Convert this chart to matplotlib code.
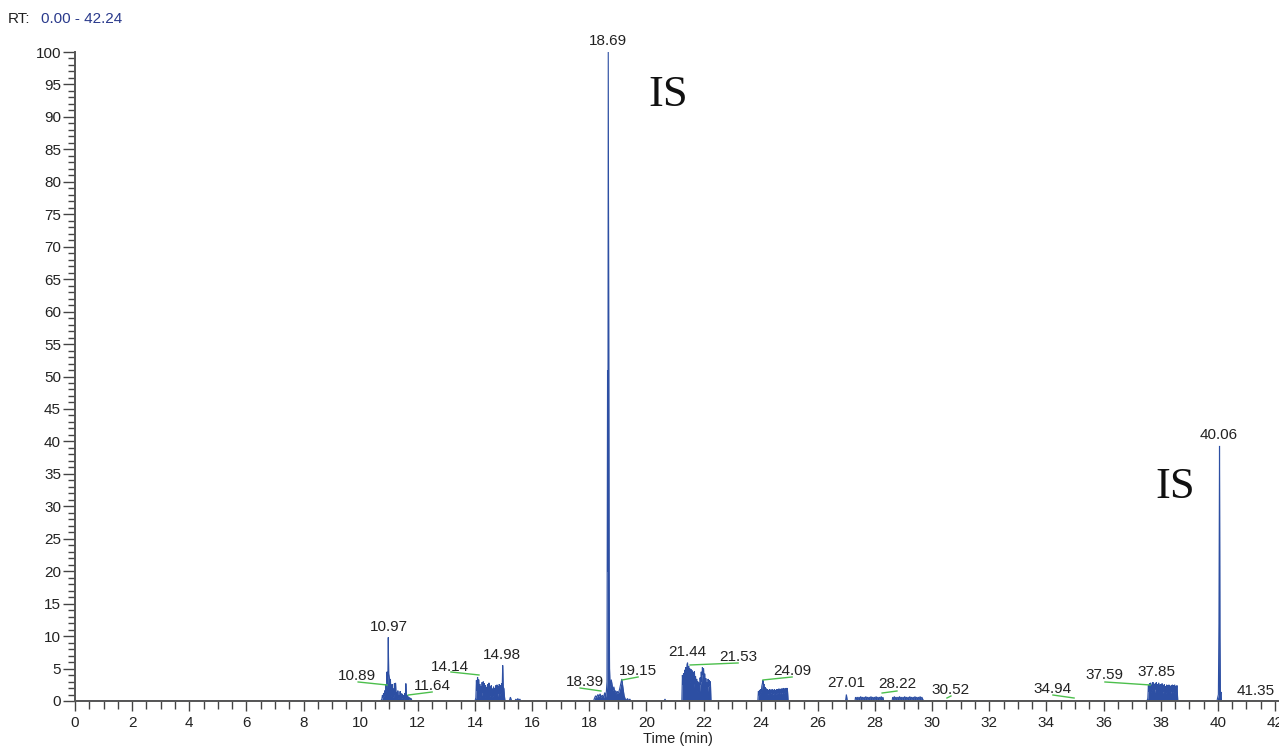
import matplotlib
matplotlib.use("Agg")
import matplotlib.pyplot as plt
from matplotlib.ticker import MultipleLocator

# ---------------- data (retention time in min, relative abundance %) ----------------
baseline_start = [(0.0, 0.0)]
cluster_11 = [(10.70,0),(10.74,0.3),(10.76,0.9),(10.78,0.5),(10.80,1.2),(10.82,0.7),(10.84,1.6),(10.86,1.0),
              (10.88,2.6),(10.90,1.5),(10.92,4.5),(10.94,2.6),(10.95,3.8),(10.965,9.8),(10.98,4.2),(11.00,3.6),
              (11.02,2.0),(11.04,3.4),(11.06,0.8),(11.08,1.2),(11.10,2.6),(11.12,0.5),(11.14,1.9),(11.16,0.6),
              (11.18,2.7),(11.20,0.9),(11.22,2.8),(11.24,0.8),(11.26,1.3),(11.28,0.5),(11.30,1.6),(11.32,0.4),
              (11.34,0.9),(11.36,0.5),(11.38,1.5),(11.40,0.4),(11.42,1.2),(11.44,0.4),(11.46,1.1),(11.48,0.5),
              (11.50,0.9),(11.52,0.3),(11.54,1.2),(11.56,0.4),(11.58,2.7),(11.60,1.0),(11.62,0.6),(11.64,0.9),
              (11.66,0.4),(11.68,0.6),(11.70,0.3),(11.72,0.5),(11.74,0.3),(11.76,0.4),(11.78,0.2),(11.80,0)]
cluster_14 = [(14.00,0),(14.03,0.5),(14.05,3.2),(14.07,1.6),(14.09,3.7),(14.11,1.0),(14.13,3.3),(14.15,0.8),
              (14.17,2.6),(14.19,0.6),(14.21,2.2),(14.23,0.8),(14.25,2.9),(14.27,1.2),(14.29,3.0),(14.31,1.0),
              (14.33,2.7),(14.35,0.6),(14.37,2.4),(14.39,0.8),(14.41,2.1),(14.43,0.5),(14.45,2.6),(14.47,1.0),
              (14.49,2.8),(14.51,0.7),(14.53,2.2),(14.55,0.8),(14.57,2.4),(14.59,0.6),(14.61,1.9),(14.63,0.7),
              (14.65,2.2),(14.67,0.9),(14.69,2.0),(14.71,0.5),(14.73,2.4),(14.75,1.0),(14.77,2.5),(14.79,0.7),
              (14.81,2.3),(14.83,1.1),(14.85,2.6),(14.87,0.8),(14.89,2.4),(14.91,1.2),(14.93,2.7),(14.95,1.4),
              (14.97,5.5),(14.99,2.0),(15.01,2.0),(15.03,0.8),(15.05,0),(15.20,0),(15.24,0.6),(15.28,0),
              (15.40,0),(15.43,0.3),(15.46,0),(15.50,0.4),(15.53,0),(15.57,0.3),(15.60,0)]
cluster_18 = [(18.15,0),(18.18,0.4),(18.22,0.8),(18.26,0.6),(18.30,1.0),(18.34,0.7),(18.38,1.1),(18.42,0.6),
              (18.46,0.9),(18.50,0.5),(18.54,1.3),(18.57,0.6),(18.60,1.5),(18.62,3.0),(18.64,51),(18.65,20),
              (18.665,100),(18.68,60),(18.695,20),(18.71,5),(18.73,2.0),(18.77,3.3),(18.80,2.5),(18.83,1.6),
              (18.86,2.2),(18.89,1.3),(18.92,1.6),(18.95,1.1),(18.98,1.5),(19.02,1.2),(19.06,1.8),(19.10,2.6),
              (19.14,3.4),(19.18,2.0),(19.22,0.8),(19.26,0.3),(19.30,0.1),(19.34,0.4),(19.37,0),(19.42,0.3),
              (19.45,0),(20.62,0),(20.65,0.3),(20.68,0)]
cluster_21 = [(21.24,0),(21.26,4.0),(21.28,2.5),(21.30,4.3),(21.32,2.0),(21.34,4.8),(21.36,3.0),(21.38,5.2),
              (21.40,3.5),(21.42,5.6),(21.44,5.9),(21.46,3.8),(21.48,5.4),(21.50,3.2),(21.52,5.0),(21.54,2.8),
              (21.56,4.9),(21.58,3.0),(21.60,4.7),(21.62,2.5),(21.64,4.4),(21.66,2.0),(21.68,4.6),(21.70,2.6),
              (21.72,3.8),(21.74,1.8),(21.76,3.4),(21.78,1.5),(21.80,3.0),(21.82,1.4),(21.84,2.8),(21.86,1.5),
              (21.88,3.6),(21.90,2.5),(21.92,4.5),(21.94,3.0),(21.96,5.2),(21.98,4.0),(22.00,5.0),(22.02,2.8),
              (22.04,4.2),(22.06,2.0),(22.08,3.5),(22.10,1.8),(22.12,2.9),(22.14,1.5),(22.16,3.4),(22.18,2.2),
              (22.20,3.2),(22.22,2.4),(22.24,3.0),(22.26,0)]
cluster_24 = [(23.90,0),(23.92,1.5),(23.94,0.9),(23.96,1.7),(23.98,1.1),(24.00,1.8),(24.02,1.3),(24.04,2.3),
              (24.06,2.7),(24.08,3.2),(24.10,2.5),(24.12,2.6),(24.14,1.5),(24.16,2.1),(24.18,1.2),(24.20,1.9),
              (24.22,1.1),(24.24,1.8),(24.26,1.0),(24.28,1.7),(24.30,1.1),(24.32,1.8),(24.34,1.0),(24.36,1.7),
              (24.38,1.2),(24.40,1.8),(24.42,1.0),(24.44,1.7),(24.46,1.1),(24.48,1.8),(24.50,1.2),(24.52,1.7),
              (24.54,1.0),(24.56,1.8),(24.58,1.1),(24.60,1.8),(24.62,1.2),(24.64,1.9),(24.66,1.1),(24.68,1.8),
              (24.70,1.2),(24.72,1.9),(24.74,1.1),(24.76,1.9),(24.78,1.3),(24.80,2.0),(24.82,1.2),(24.84,1.9),
              (24.86,1.3),(24.88,2.0),(24.90,1.4),(24.92,2.0),(24.94,1.5),(24.96,0)]
cluster_28 = [(26.97,0),(27.00,1.0),(27.03,0),(27.30,0),(27.32,0.6),(27.35,0.3),(27.38,0.6),(27.41,0.3),
              (27.44,0.6),(27.47,0.3),(27.50,0.7),(27.53,0.3),(27.56,0.6),(27.59,0.3),(27.62,0.6),(27.65,0.3),
              (27.68,0.7),(27.71,0.3),(27.74,0.6),(27.77,0.3),(27.80,0.6),(27.83,0.3),(27.86,0.7),(27.89,0.3),
              (27.92,0.6),(27.95,0.3),(27.98,0.6),(28.01,0.3),(28.04,0.7),(28.07,0.3),(28.10,0.6),(28.13,0.3),
              (28.16,0.6),(28.19,0.3),(28.22,0.7),(28.25,0.3),(28.28,0.6),(28.30,0),(28.60,0),(28.62,0.6),
              (28.65,0.3),(28.68,0.7),(28.71,0.3),(28.74,0.6),(28.77,0.3),(28.80,0.6),(28.83,0.3),(28.86,0.7),
              (28.89,0.3),(28.92,0.6),(28.95,0.3),(28.98,0.6),(29.01,0.3),(29.04,0.7),(29.07,0.3),(29.10,0.6),
              (29.13,0.3),(29.16,0.6),(29.19,0.3),(29.22,0.7),(29.25,0.3),(29.28,0.6),(29.31,0.3),(29.34,0.6),
              (29.37,0.3),(29.40,0.7),(29.43,0.3),(29.46,0.6),(29.49,0.3),(29.52,0.6),(29.55,0.3),(29.58,0.7),
              (29.61,0.3),(29.64,0.6),(29.67,0.3),(29.70,0)]
cluster_38 = [(37.52,0),(37.55,0.4),(37.57,2.4),(37.59,1.5),(37.61,2.7),(37.63,1.6),(37.65,2.8),(37.67,1.4),
              (37.69,2.5),(37.71,1.7),(37.73,2.9),(37.75,1.5),(37.77,2.6),(37.79,1.3),(37.81,2.7),(37.83,1.8),
              (37.85,2.9),(37.87,1.6),(37.89,2.6),(37.91,1.4),(37.93,2.8),(37.95,1.5),(37.97,2.5),(37.99,1.3),
              (38.01,2.6),(38.03,1.6),(38.05,2.7),(38.07,1.2),(38.09,2.4),(38.11,1.4),(38.13,2.6),(38.15,1.5),
              (38.17,2.3),(38.19,1.2),(38.21,2.5),(38.23,1.4),(38.25,2.4),(38.27,1.3),(38.29,2.5),(38.31,1.5),
              (38.33,2.3),(38.35,1.2),(38.37,2.4),(38.39,1.4),(38.41,2.5),(38.43,1.3),(38.45,2.4),(38.47,1.5),
              (38.49,2.5),(38.51,1.2),(38.53,2.3),(38.55,1.4),(38.57,2.4),(38.60,0)]
peak_40 = [(39.97,0),(40.02,1.0),(40.04,12),(40.06,39.3),(40.075,10),(40.09,0.5),(40.11,1.4),(40.13,0),
           (42.24,0)]

# peak labels: (text, x, y) in data coordinates
peak_labels = [("18.69", 18.66, 101.7), ("10.97", 10.99, 11.4), ("10.89", 9.87, 3.85),
               ("11.64", 12.50, 2.31), ("14.14", 13.13, 5.24), ("14.98", 14.95, 7.09),
               ("18.39", 17.85, 2.93), ("19.15", 19.71, 4.62), ("21.44", 21.42, 7.55),
               ("21.53", 23.21, 6.78), ("24.09", 25.10, 4.62), ("27.01", 26.99, 2.77),
               ("28.22", 28.77, 2.62), ("30.52", 30.63, 1.69), ("34.94", 34.23, 1.85),
               ("37.59", 36.02, 4.00), ("37.85", 37.84, 4.47), ("40.06", 40.04, 41.0)]
edge_label = ("41.35", 40.67, 1.54)
# green leader lines: (x0, y0, x1, y1)
leaders = [(9.91, 2.93, 10.92, 2.47), (11.66, 0.92, 12.50, 1.39), (13.16, 4.47, 14.14, 4.01),
           (17.68, 2.00, 18.41, 1.54), (19.15, 3.24, 19.71, 3.70), (21.53, 5.55, 23.21, 5.86),
           (24.08, 3.24, 25.10, 3.70), (28.25, 1.23, 28.77, 1.54), (30.52, 0.46, 30.66, 0.77),
           (34.23, 0.92, 34.97, 0.46), (36.05, 2.93, 37.63, 2.47)]
is_labels = [("IS", 20.76, 93.4), ("IS", 38.50, 33.0)]

rt_range = "0.00 - 42.24"
x_major = 2
y_major = 5

# ---------------- build trace ----------------
trace = (baseline_start + cluster_11 + cluster_14 + cluster_18 + cluster_21 +
         cluster_24 + cluster_28 + cluster_38 + peak_40)
t = [p[0] for p in trace]
inten = [p[1] for p in trace]

plt.rcParams['font.family'] = ['Liberation Sans', 'DejaVu Sans']

W, H = 1279, 755
fig = plt.figure(figsize=(W / 100, H / 100), dpi=100)
x0px, x1px = 75, 75 + 42.24 * 28.57
ytop, ybot = 52, 701
ax = fig.add_axes([x0px / W, (H - ybot) / H, (x1px - x0px) / W, (ybot - ytop) / H])

blue = '#2d4fa3'
ax.fill_between(t, inten, 0, color=blue, linewidth=0)
ax.plot(t, inten, color=blue, linewidth=0.8, solid_joinstyle='miter')

ax.set_xlim(0, 42.24)
ax.set_ylim(0, 100)

for sp in ['top', 'right']:
    ax.spines[sp].set_visible(False)
for sp in ['left', 'bottom']:
    ax.spines[sp].set_color('#555555')
    ax.spines[sp].set_linewidth(1.4)

ax.xaxis.set_major_locator(MultipleLocator(x_major))
ax.xaxis.set_minor_locator(MultipleLocator(0.5))
ax.yaxis.set_major_locator(MultipleLocator(y_major))
ax.yaxis.set_minor_locator(MultipleLocator(1))
ax.tick_params(axis='x', which='major', length=7, width=1.0, color='#444444', labelsize=11,
               labelcolor='#222222', pad=4)
ax.tick_params(axis='x', which='minor', length=6, width=1.0, color='#444444')
ax.tick_params(axis='y', which='major', length=9, width=1.0, color='#444444', labelsize=11,
               labelcolor='#222222', pad=1)
ax.tick_params(axis='y', which='minor', length=5, width=1.0, color='#444444')

ax.set_xlabel("Time (min)", fontsize=10.5, color='#222222', labelpad=1)

for txt, x, y in peak_labels:
    ax.text(x, y, txt, ha='center', va='center', fontsize=11, color='#222222', clip_on=False)
ax.text(edge_label[1], edge_label[2], edge_label[0], ha='left', va='center', fontsize=11,
        color='#222222', clip_on=False)
for x0, y0, x1, y1 in leaders:
    ax.plot([x0, x1], [y0, y1], color='#4cbf4c', linewidth=1.0, clip_on=False)
for txt, x, y in is_labels:
    ax.text(x, y, txt, ha='center', va='center', fontsize=32, family='Liberation Serif',
            color='#111111', clip_on=False)

fig.text(8 / W, 1 - 19 / H, "RT:", ha='left', va='center', fontsize=11, color='#222222')
fig.text(41 / W, 1 - 19 / H, rt_range, ha='left', va='center', fontsize=11, color='#2a3a8c')

fig.savefig("out.png", dpi=100)
